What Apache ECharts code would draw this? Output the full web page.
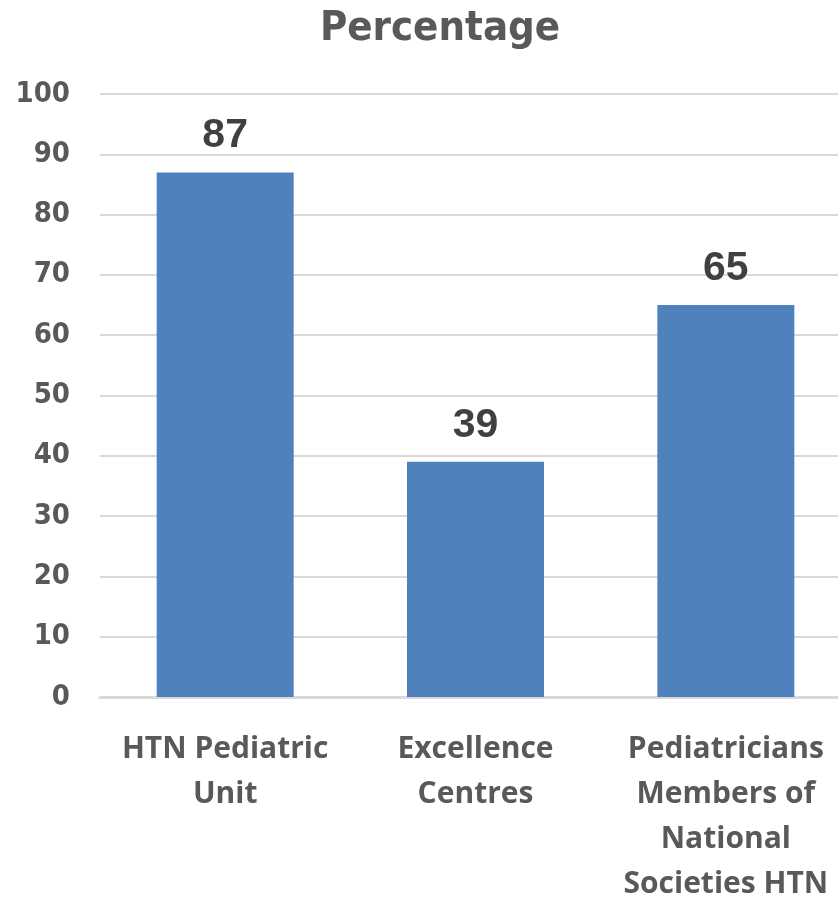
<!DOCTYPE html>
<html><head><meta charset="utf-8">
<script src="https://cdn.jsdelivr.net/npm/echarts@6/dist/echarts.min.js"></script>
<style>html,body{margin:0;padding:0;background:#fff;overflow:hidden}#c{width:838px;height:898px}</style>
</head><body><div id="c"></div>
<script>
var categories = ['HTN Pediatric\nUnit', 'Excellence\nCentres', 'Pediatricians\nMembers of\nNational\nSocieties HTN'];
var values = [87, 39, 65];
var yTicks = {min: 0, max: 100, interval: 10};
var chart = echarts.init(document.getElementById('c'));
chart.setOption({
  animation: false,
  title: {text: 'Percentage', left: 435, textAlign: 'center', top: 3,
    textStyle: {fontFamily: 'DejaVu Sans Condensed, DejaVu Sans', fontWeight: 'bold', fontSize: 41.5, color: '#595959'}},
  grid: {left: 100, right: -13, top: 94, bottom: 201, containLabel: false, outerBoundsMode: 'none'},
  xAxis: {type: 'category', data: categories,
    axisLine: {show: true, lineStyle: {color: '#d9d9d9', width: 3}},
    axisTick: {show: false},
    axisLabel: {interval: 0, margin: 30, lineHeight: 45, fontSize: 30, fontWeight: 'bold', fontFamily: 'Open Sans', color: '#595959'}},
  yAxis: {type: 'value', min: yTicks.min, max: yTicks.max, interval: yTicks.interval,
    axisLine: {show: false}, axisTick: {show: false},
    splitLine: {lineStyle: {color: '#d9d9d9', width: 2}},
    axisLabel: {margin: 30, fontSize: 29, fontWeight: 'bold', fontFamily: 'DejaVu Sans Condensed, DejaVu Sans', color: '#595959'}},
  series: [{type: 'bar', data: values, barWidth: 137,
    itemStyle: {color: '#4f81bd'},
    label: {show: true, position: 'top', distance: 16, fontSize: 41, fontWeight: 'bold', fontFamily: 'Liberation Sans', color: '#404040'}}]
});
</script></body></html>
